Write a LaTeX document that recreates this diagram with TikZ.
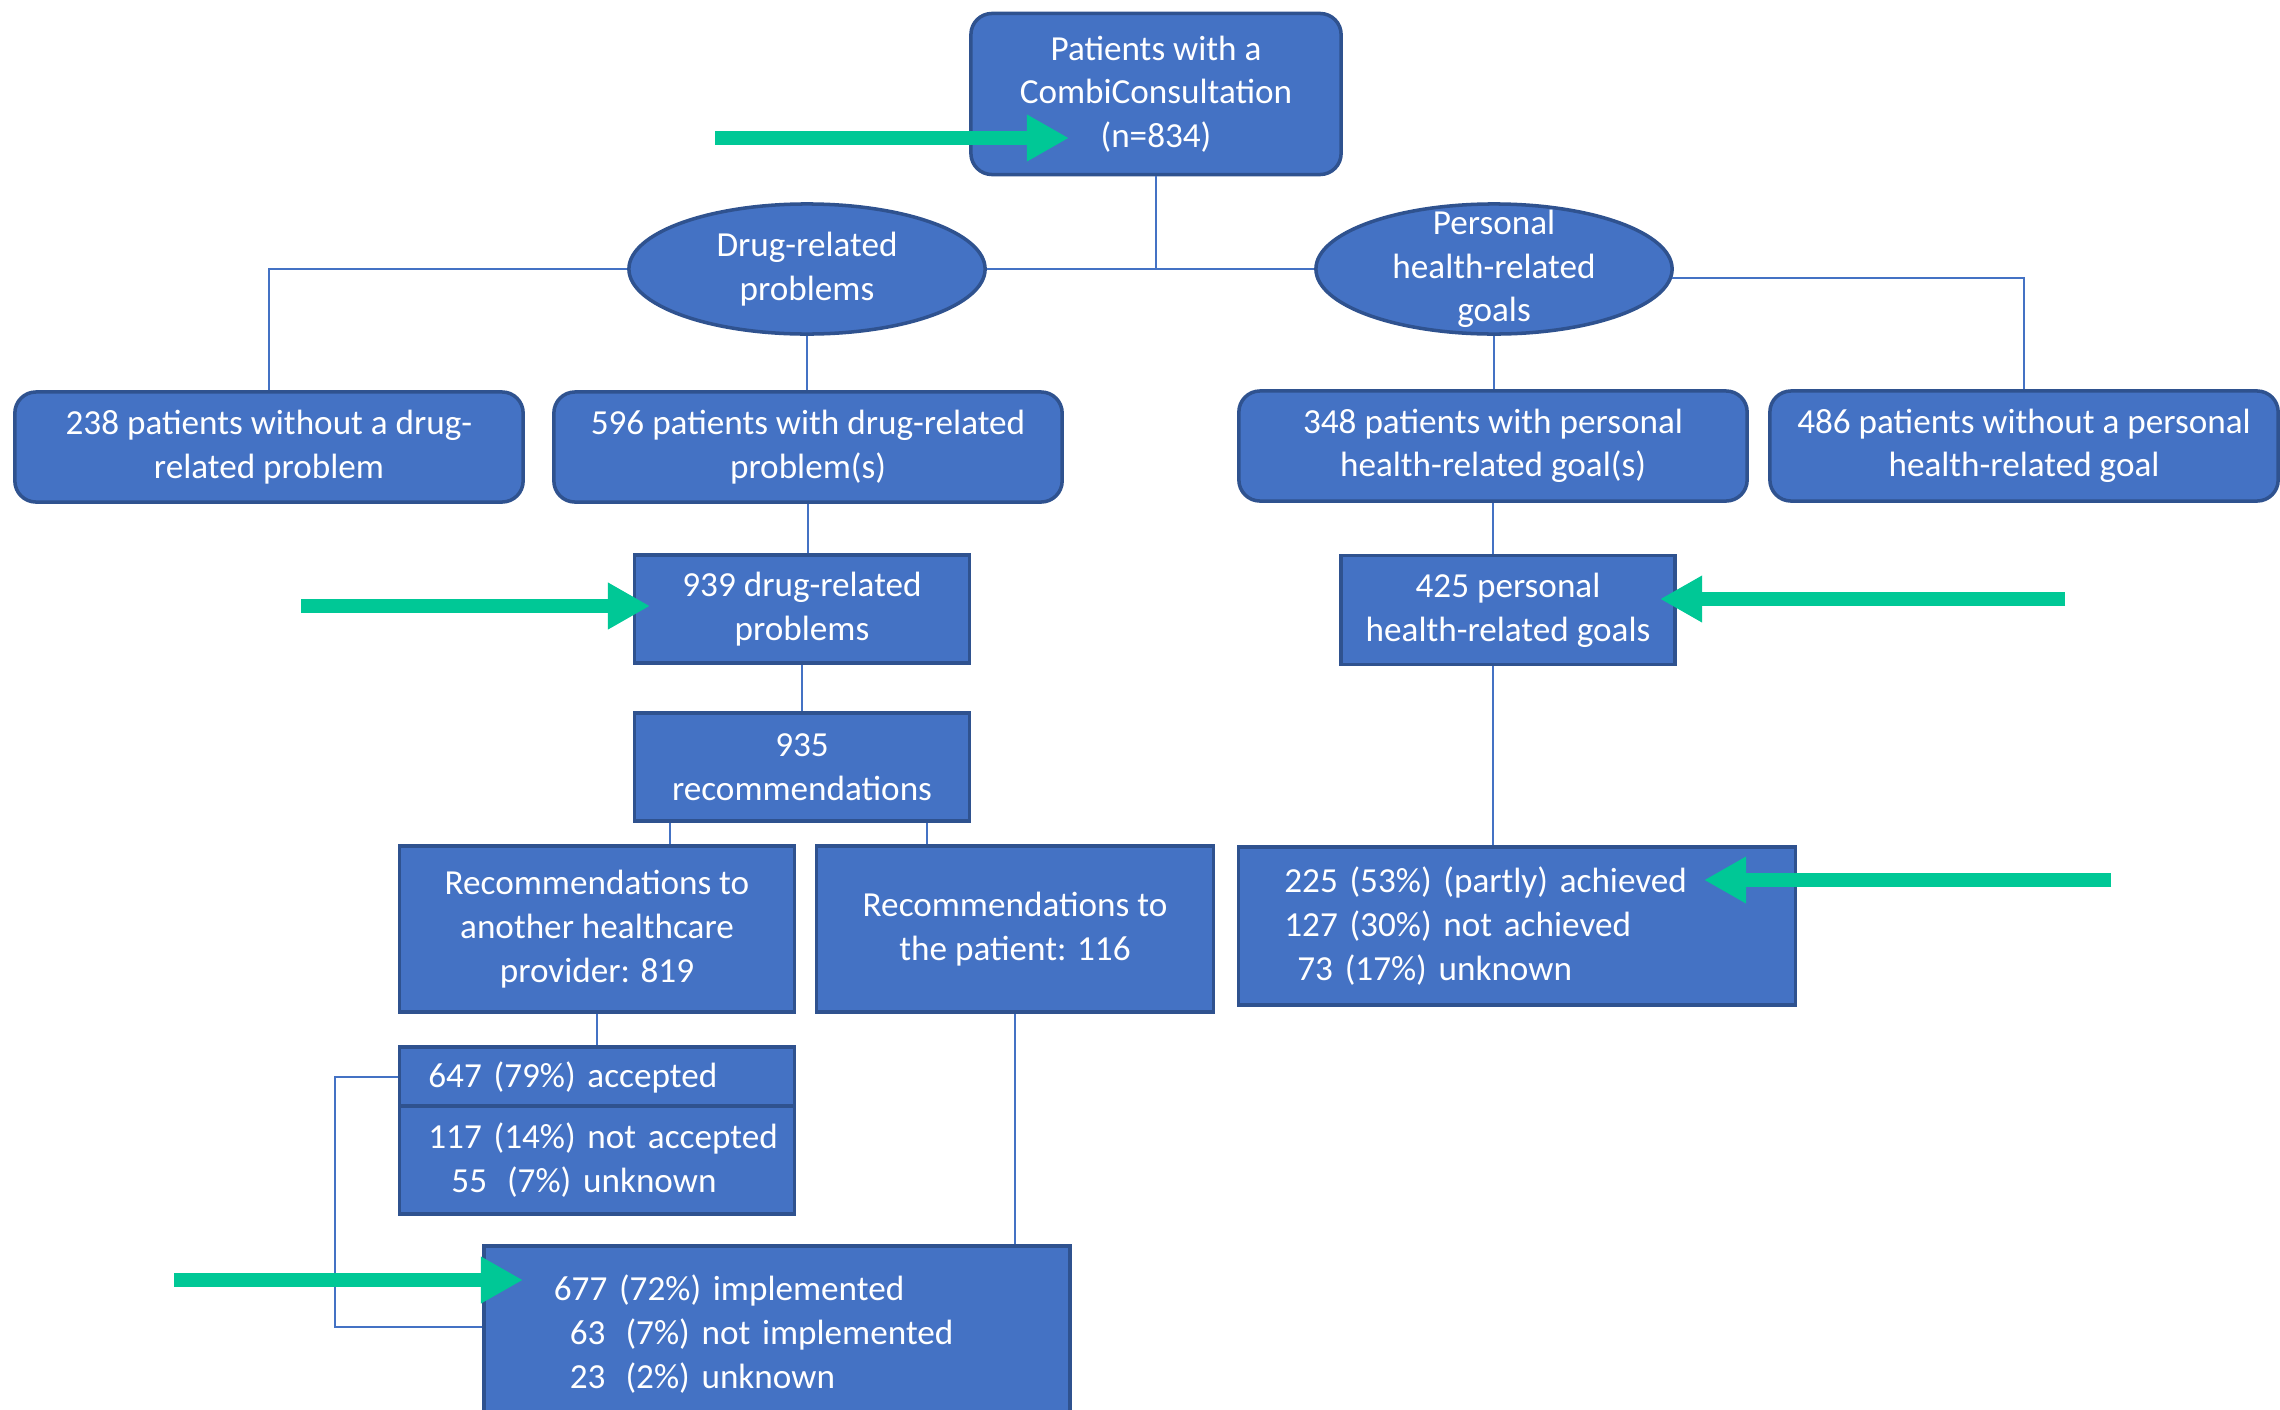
\documentclass[tikz,border=0pt]{standalone}
\usepackage{fontspec}
\setmainfont{Carlito}
\usetikzlibrary{shapes.geometric,arrows.meta}
\definecolor{boxBlue}{HTML}{4472C4}
\definecolor{boxEdge}{HTML}{2F528F}
\definecolor{arrowGreen}{RGB}{0,200,150}
\newcommand{\pad}[1]{\hspace*{#1}}
\newcommand{\pageW}{2280}
\newcommand{\pageH}{1409}
\newcommand{\loopOffset}{63}

\begin{document}
\begin{tikzpicture}[x=0.01cm, y=-0.01cm,
    font=\fontsize{10}{12.4}\selectfont, text=white,
    rbox/.style={draw=boxEdge, fill=boxBlue, line width=1pt, rounded corners=6pt, align=center, minimum width=5.08cm, minimum height=1.1cm, inner sep=0pt},
    sqbox/.style={draw=boxEdge, fill=boxBlue, line width=1pt, align=center, inner sep=0pt},
    lbox/.style={sqbox, align=left, text width=#1},
    oval/.style={ellipse, draw=boxEdge, fill=boxBlue, line width=1pt, align=center, minimum width=3.56cm, minimum height=1.3cm, inner sep=-5pt},
    link/.style={draw=boxBlue, line width=0.6pt},
    hint/.style={draw=arrowGreen, line width=3.8pt, -{Triangle[length=12pt,width=12.5pt]}}]
      \fill[white] (0,0) rectangle (\pageW,\pageH);
      \useasboundingbox (0,0) rectangle (\pageW,\pageH);

% top and the two branches
\node[rbox, minimum width=3.7cm, minimum height=1.61cm] (combi) at (1156,94) {Patients with a\\CombiConsultation\\(n=834)};
\node[oval] (drp) at (807,269) {Drug-related\\problems};
\node[oval] (phg) at (1494,269) {Personal\\health-related\\goals};

\node[rbox] (nodrp) at (269,447) {238 patients without a drug-\\related problem};
\node[rbox] (withdrp) at (808,447) {596 patients with drug-related\\problem(s)};
\node[rbox] (withphg) at (1493,446) {348 patients with personal\\health-related goal(s)};
\node[rbox] (nophg) at (2024,446) {486 patients without a personal\\health-related goal};

\node[sqbox, minimum width=3.35cm, minimum height=1.08cm] (drp939) at (802,609) {939 drug-related\\problems};
\node[sqbox, minimum width=3.34cm, minimum height=1.09cm] (phg425) at (1508,610) {425 personal\\health-related goals};
\node[sqbox, minimum width=3.35cm, minimum height=1.08cm] (rec935) at (802,767) {935\\recommendations};

\node[sqbox, minimum width=3.95cm, minimum height=1.66cm] (toHcp) at (597,929) {Recommendations to\\another healthcare\\provider: 819};
\node[sqbox, minimum width=3.97cm, minimum height=1.66cm] (toPat) at (1015,929) {Recommendations to\\the patient: 116};
\node[lbox=5.57cm, minimum height=1.58cm] (achieved) at (1517,926) {\pad{0.46cm}225 (53\%) (partly) achieved\\\pad{0.46cm}127 (30\%) not achieved\\\pad{0.59cm}73 (17\%) unknown};

\node[lbox=3.95cm, minimum height=0.6cm] (accepted) at (597,1077) {\pad{0.29cm}647 (79\%) accepted};
\node[lbox=3.95cm, minimum height=1.08cm] (notacc) at (597,1160) {\pad{0.29cm}117 (14\%) not accepted\\\pad{0.52cm}55\pad{0.2cm}(7\%) unknown};
\node[lbox=5.86cm, minimum height=1.76cm] (implemented) at (777,1334) {\pad{0.70cm}677 (72\%) implemented\\\pad{0.86cm}63\pad{0.2cm}(7\%) not implemented\\\pad{0.86cm}23\pad{0.2cm}(2\%) unknown};

% connectors
\draw[link] (combi.south) -- (combi.south |- drp.east);
\draw[link] (drp.east) -- (phg.west);
\draw[link] (drp.west) -| (nodrp.north);
\draw[link] (drp.south) -- (drp.south |- withdrp.north);
\draw[link] (phg.-3) -| (nophg.north);
\draw[link] (phg.south) -- (phg.south |- withphg.north);
\draw[link] (withdrp.south) -- (withdrp.south |- drp939.north);
\draw[link] (drp939.south) -- (rec935.north);
\draw[link] (withphg.south) -- (withphg.south |- phg425.north);
\draw[link] (phg425.south -| withphg.south) -- (withphg.south |- achieved.north);
\draw[link] ([xshift=0.37cm]rec935.south west) -- ([xshift=0.37cm]rec935.south west |- toHcp.north);
\draw[link] ([xshift=-0.44cm]rec935.south east) -- ([xshift=-0.44cm]rec935.south east |- toPat.north);
\draw[link] (toHcp.south) -- (accepted.north);
\draw[link] (toPat.south) -- (toPat.south |- implemented.north);
\draw[link] (accepted.west) -- ++(-\loopOffset,0) |- ([yshift=0.07cm]implemented.west);

% green pointers
\coordinate (p1s) at (715,138);  \coordinate (p1e) at (1069,138);
\coordinate (p2s) at (301,606);  \coordinate (p2e) at (650,606);
\coordinate (p3s) at (2065,599); \coordinate (p3e) at (1660,599);
\coordinate (p4s) at (2111,880); \coordinate (p4e) at (1704,880);
\coordinate (p5s) at (174,1280); \coordinate (p5e) at (523,1280);
\draw[hint] (p1s) -- (p1e);
\draw[hint] (p2s) -- (p2e);
\draw[hint] (p3s) -- (p3e);
\draw[hint] (p4s) -- (p4e);
\draw[hint] (p5s) -- (p5e);
      \end{tikzpicture}
\end{document}
